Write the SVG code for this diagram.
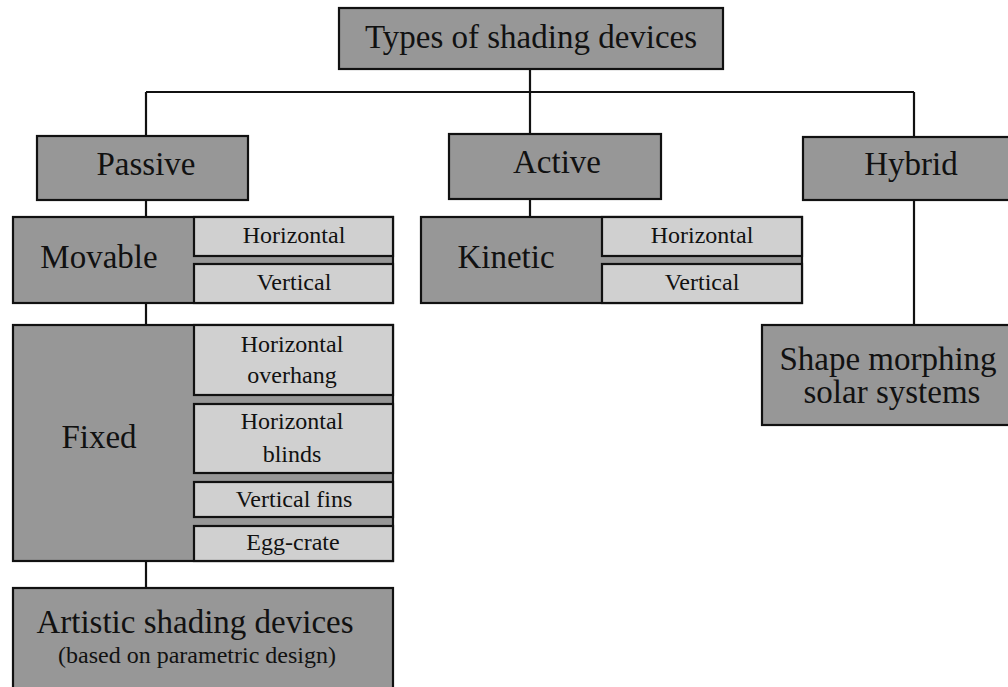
<svg xmlns="http://www.w3.org/2000/svg" width="1008" height="687" viewBox="0 0 1008 687">
<style>
.d{fill:#979797;stroke:#111;stroke-width:2.2}
.l{fill:#d0d0d0;stroke:#111;stroke-width:2.2}
.c{stroke:#111;stroke-width:2.2;fill:none}
text{font-family:"Liberation Serif","Times New Roman",serif;fill:#111;text-anchor:middle}
.b{font-size:33px}
.s{font-size:24px}
</style>
<rect width="1008" height="687" fill="#fff"/>
<g id="connectors">
<line class="c" x1="530" y1="69" x2="530" y2="135"/>
<line class="c" x1="146" y1="92" x2="914" y2="92"/>
<line class="c" x1="146" y1="92" x2="146" y2="136"/>
<line class="c" x1="914" y1="92" x2="914" y2="137"/>
<line class="c" x1="146" y1="200" x2="146" y2="217"/>
<line class="c" x1="530" y1="199" x2="530" y2="217"/>
<line class="c" x1="914" y1="200" x2="914" y2="325"/>
<line class="c" x1="146" y1="303" x2="146" y2="325"/>
<line class="c" x1="146" y1="561" x2="146" y2="588"/>
</g>
<g id="root">
<rect class="d" x="339" y="8" width="384" height="61"/>
<text class="b" x="531" y="48">Types of shading devices</text>
</g>
<g id="passive">
<rect class="d" x="37" y="136" width="211" height="64"/>
<text class="b" x="146" y="175">Passive</text>
</g>
<g id="active">
<rect class="d" x="449" y="134" width="212" height="65"/>
<text class="b" x="557" y="173">Active</text>
</g>
<g id="hybrid">
<rect class="d" x="803" y="137" width="220" height="63"/>
<text class="b" x="911" y="175">Hybrid</text>
</g>
<g id="movable">
<rect class="d" x="13" y="217" width="380" height="86"/>
<text class="b" x="99" y="268">Movable</text>
<rect class="l" x="194" y="217" width="199" height="39"/>
<text class="s" x="294" y="243">Horizontal</text>
<rect class="l" x="194" y="264" width="199" height="39"/>
<text class="s" x="294" y="290">Vertical</text>
</g>
<g id="kinetic">
<rect class="d" x="421" y="217" width="381" height="86"/>
<text class="b" x="506" y="268">Kinetic</text>
<rect class="l" x="602" y="217" width="200" height="39"/>
<text class="s" x="702" y="243">Horizontal</text>
<rect class="l" x="602" y="264" width="200" height="39"/>
<text class="s" x="702" y="290">Vertical</text>
</g>
<g id="fixed">
<rect class="d" x="13" y="325" width="380" height="236"/>
<text class="b" x="99" y="448">Fixed</text>
<rect class="l" x="194" y="325" width="199" height="70"/>
<text class="s" x="292" y="352">Horizontal</text>
<text class="s" x="292" y="383">overhang</text>
<rect class="l" x="194" y="404" width="199" height="69"/>
<text class="s" x="292" y="429">Horizontal</text>
<text class="s" x="292" y="462">blinds</text>
<rect class="l" x="194" y="482" width="199" height="35"/>
<text class="s" x="294" y="507">Vertical fins</text>
<rect class="l" x="194" y="526" width="199" height="35"/>
<text class="s" x="293" y="550">Egg-crate</text>
</g>
<g id="artistic">
<rect class="d" x="13" y="588" width="380" height="110"/>
<text class="b" x="195" y="633">Artistic shading devices</text>
<text class="s" x="197" y="663">(based on parametric design)</text>
</g>
<g id="shape">
<rect class="d" x="762" y="325" width="260" height="100"/>
<text class="b" x="888" y="370">Shape morphing</text>
<text class="b" x="892" y="403">solar systems</text>
</g>
</svg>
